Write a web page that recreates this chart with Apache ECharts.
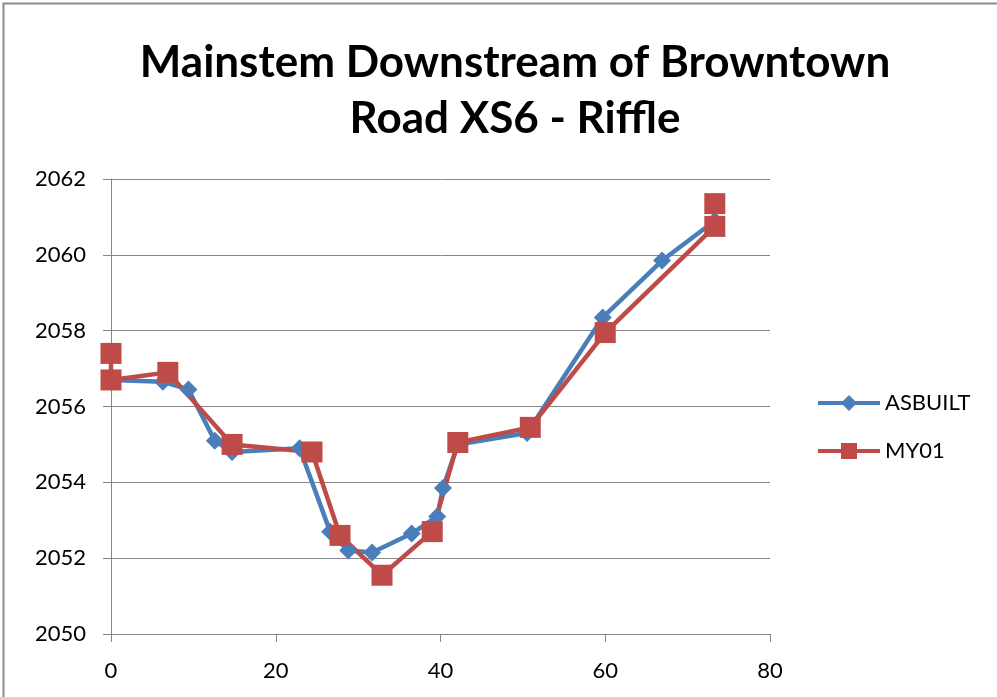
<!DOCTYPE html>
<html>
<head>
<meta charset="utf-8">
<script src="https://cdn.jsdelivr.net/npm/echarts@6/dist/echarts.min.js"></script>
<style>
html,body{margin:0;padding:0;background:#fff;}
#chart{width:997px;height:697px;}
</style>
</head>
<body>
<div id="chart"></div>
<script>
const titleText = "Mainstem Downstream of Browntown\nRoad XS6 - Riffle";
const seriesNames = ["ASBUILT", "MY01"];
const asbuiltX = [0, 6.3, 9.4, 12.6, 14.7, 22.9, 26.6, 28.8, 31.7, 36.5, 39.6, 40.3, 42.1, 50.5, 59.7, 66.9, 73.3];
const asbuiltY = [2056.7, 2056.65, 2056.45, 2055.1, 2054.8, 2054.9, 2052.7, 2052.2, 2052.15, 2052.65, 2053.1, 2053.85, 2055.0, 2055.3, 2058.35, 2059.85, 2060.9];
const my01X = [0, 0, 6.9, 14.7, 24.4, 27.8, 32.9, 39.0, 42.1, 50.9, 60.0, 73.3, 73.3];
const my01Y = [2057.4, 2056.7, 2056.9, 2055.0, 2054.8, 2052.6, 2051.55, 2052.7, 2055.05, 2055.45, 2057.95, 2060.75, 2061.35];
const xTicks = [0, 20, 40, 60, 80];
const yTicks = [2050, 2052, 2054, 2056, 2058, 2060, 2062];

const pairs = (xs, ys) => xs.map((x, i) => [x, ys[i]]);
const chart = echarts.init(document.getElementById('chart'));
const fontFam = "Lato, 'Open Sans', sans-serif";
chart.setOption({
  animation: false,
  backgroundColor: '#fff',
  graphic: [{
    type: 'rect', shape: {x: 3.5, y: 3.5, width: 1100, height: 800},
    style: {fill: 'none', stroke: '#8c8c8c', lineWidth: 2}, silent: true
  }],
  title: {
    text: titleText, left: 510, top: 30, textAlign: 'center',
    textStyle: {fontFamily: fontFam, fontWeight: 'bold', fontSize: 44, lineHeight: 56, color: '#000'}
  },
  grid: {left: 111, right: 227, top: 179, bottom: 63},
  legend: {
    orient: 'vertical', left: 811, top: 387, itemGap: 26,
    itemWidth: 62, itemHeight: 20,
    lineStyle: {width: 4},
    textStyle: {fontFamily: fontFam, fontSize: 22, color: '#000'},
    data: seriesNames
  },
  xAxis: {
    type: 'value', min: xTicks[0], max: xTicks[xTicks.length - 1], interval: 20,
    axisLine: {lineStyle: {color: '#868686', width: 1}},
    axisTick: {show: true, length: 8, lineStyle: {color: '#868686'}},
    axisLabel: {fontFamily: fontFam, fontSize: 22, color: '#000', margin: 26},
    splitLine: {show: false}
  },
  yAxis: {
    type: 'value', min: yTicks[0], max: yTicks[yTicks.length - 1], interval: 2,
    axisLine: {show: true, lineStyle: {color: '#868686', width: 1}},
    axisTick: {show: true, length: 8, lineStyle: {color: '#868686'}},
    axisLabel: {fontFamily: fontFam, fontSize: 22, color: '#000', margin: 25,
      formatter: v => String(v)},
    splitLine: {show: true, lineStyle: {color: '#868686', width: 1}}
  },
  series: [
    {
      name: seriesNames[0], type: 'line', data: pairs(asbuiltX, asbuiltY),
      symbol: 'diamond', symbolSize: 18,
      lineStyle: {color: '#4a7ebb', width: 4.5},
      itemStyle: {color: '#4a7ebb'}
    },
    {
      name: seriesNames[1], type: 'line', data: pairs(my01X, my01Y),
      symbol: 'rect', symbolSize: 21,
      lineStyle: {color: '#be4b48', width: 4.5},
      itemStyle: {color: '#be4b48'}
    }
  ]
});
</script>
</body>
</html>
